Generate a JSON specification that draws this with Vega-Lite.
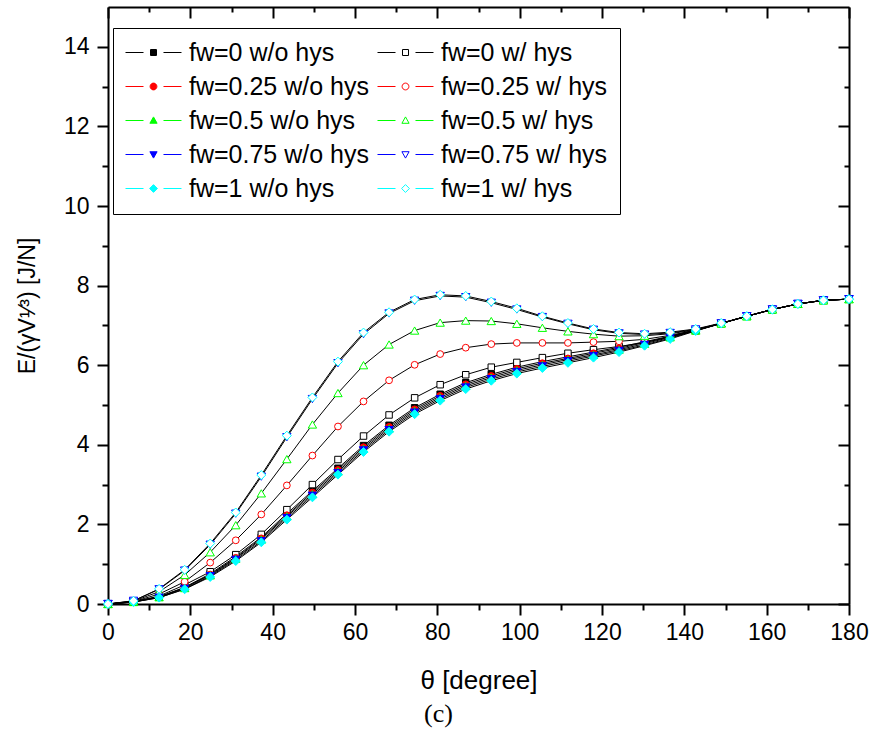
{
  "$schema": "https://vega.github.io/schema/vega-lite/v6.json",
  "width": 741,
  "height": 597,
  "autosize": "none",
  "padding": {"left": 108, "top": 7, "right": 24, "bottom": 132},
  "background": "white",
  "config": {"view": {"stroke": null}, "font": "Liberation Sans", "legend": {"gridAlign": "none"}},
  "title": {"text": "(c)", "orient": "bottom", "font": "Liberation Serif", "fontSize": 26, "fontWeight": "normal", "color": "black", "offset": 8, "dx": -40},
  "data": {"values": [
{"series":"fw=0 w/o hys","theta":0,"E":0},{"series":"fw=0 w/o hys","theta":6.207,"E":0.06},{"series":"fw=0 w/o hys","theta":12.414,"E":0.18},{"series":"fw=0 w/o hys","theta":18.621,"E":0.42},{"series":"fw=0 w/o hys","theta":24.828,"E":0.76},{"series":"fw=0 w/o hys","theta":31.034,"E":1.19},{"series":"fw=0 w/o hys","theta":37.241,"E":1.68},{"series":"fw=0 w/o hys","theta":43.448,"E":2.27},{"series":"fw=0 w/o hys","theta":49.655,"E":2.84},{"series":"fw=0 w/o hys","theta":55.862,"E":3.41},{"series":"fw=0 w/o hys","theta":62.069,"E":3.98},{"series":"fw=0 w/o hys","theta":68.276,"E":4.49},{"series":"fw=0 w/o hys","theta":74.483,"E":4.93},{"series":"fw=0 w/o hys","theta":80.69,"E":5.27},{"series":"fw=0 w/o hys","theta":86.897,"E":5.56},{"series":"fw=0 w/o hys","theta":93.103,"E":5.77},{"series":"fw=0 w/o hys","theta":99.31,"E":5.95},{"series":"fw=0 w/o hys","theta":105.517,"E":6.09},{"series":"fw=0 w/o hys","theta":111.724,"E":6.21},{"series":"fw=0 w/o hys","theta":117.931,"E":6.33},{"series":"fw=0 w/o hys","theta":124.138,"E":6.45},{"series":"fw=0 w/o hys","theta":130.345,"E":6.59},{"series":"fw=0 w/o hys","theta":136.552,"E":6.73},{"series":"fw=0 w/o hys","theta":142.759,"E":6.89},{"series":"fw=0 w/o hys","theta":148.966,"E":7.05},{"series":"fw=0 w/o hys","theta":155.172,"E":7.23},{"series":"fw=0 w/o hys","theta":161.379,"E":7.4},{"series":"fw=0 w/o hys","theta":167.586,"E":7.54},{"series":"fw=0 w/o hys","theta":173.793,"E":7.63},{"series":"fw=0 w/o hys","theta":180,"E":7.66},
{"series":"fw=0 w/ hys","theta":0,"E":0},{"series":"fw=0 w/ hys","theta":6.207,"E":0.05},{"series":"fw=0 w/ hys","theta":12.414,"E":0.2},{"series":"fw=0 w/ hys","theta":18.621,"E":0.48},{"series":"fw=0 w/ hys","theta":24.828,"E":0.81},{"series":"fw=0 w/ hys","theta":31.034,"E":1.24},{"series":"fw=0 w/ hys","theta":37.241,"E":1.75},{"series":"fw=0 w/ hys","theta":43.448,"E":2.37},{"series":"fw=0 w/ hys","theta":49.655,"E":3.0},{"series":"fw=0 w/ hys","theta":55.862,"E":3.63},{"series":"fw=0 w/ hys","theta":62.069,"E":4.22},{"series":"fw=0 w/ hys","theta":68.276,"E":4.75},{"series":"fw=0 w/ hys","theta":74.483,"E":5.18},{"series":"fw=0 w/ hys","theta":80.69,"E":5.51},{"series":"fw=0 w/ hys","theta":86.897,"E":5.76},{"series":"fw=0 w/ hys","theta":93.103,"E":5.95},{"series":"fw=0 w/ hys","theta":99.31,"E":6.07},{"series":"fw=0 w/ hys","theta":105.517,"E":6.19},{"series":"fw=0 w/ hys","theta":111.724,"E":6.3},{"series":"fw=0 w/ hys","theta":117.931,"E":6.39},{"series":"fw=0 w/ hys","theta":124.138,"E":6.47},{"series":"fw=0 w/ hys","theta":130.345,"E":6.57},{"series":"fw=0 w/ hys","theta":136.552,"E":6.72},{"series":"fw=0 w/ hys","theta":142.759,"E":6.87},{"series":"fw=0 w/ hys","theta":148.966,"E":7.05},{"series":"fw=0 w/ hys","theta":155.172,"E":7.23},{"series":"fw=0 w/ hys","theta":161.379,"E":7.4},{"series":"fw=0 w/ hys","theta":167.586,"E":7.54},{"series":"fw=0 w/ hys","theta":173.793,"E":7.63},{"series":"fw=0 w/ hys","theta":180,"E":7.66},
{"series":"fw=0.25 w/o hys","theta":0,"E":0},{"series":"fw=0.25 w/o hys","theta":6.207,"E":0.06},{"series":"fw=0.25 w/o hys","theta":12.414,"E":0.18},{"series":"fw=0.25 w/o hys","theta":18.621,"E":0.41},{"series":"fw=0.25 w/o hys","theta":24.828,"E":0.74},{"series":"fw=0.25 w/o hys","theta":31.034,"E":1.16},{"series":"fw=0.25 w/o hys","theta":37.241,"E":1.65},{"series":"fw=0.25 w/o hys","theta":43.448,"E":2.23},{"series":"fw=0.25 w/o hys","theta":49.655,"E":2.8},{"series":"fw=0.25 w/o hys","theta":55.862,"E":3.37},{"series":"fw=0.25 w/o hys","theta":62.069,"E":3.94},{"series":"fw=0.25 w/o hys","theta":68.276,"E":4.45},{"series":"fw=0.25 w/o hys","theta":74.483,"E":4.89},{"series":"fw=0.25 w/o hys","theta":80.69,"E":5.23},{"series":"fw=0.25 w/o hys","theta":86.897,"E":5.52},{"series":"fw=0.25 w/o hys","theta":93.103,"E":5.73},{"series":"fw=0.25 w/o hys","theta":99.31,"E":5.91},{"series":"fw=0.25 w/o hys","theta":105.517,"E":6.05},{"series":"fw=0.25 w/o hys","theta":111.724,"E":6.17},{"series":"fw=0.25 w/o hys","theta":117.931,"E":6.3},{"series":"fw=0.25 w/o hys","theta":124.138,"E":6.42},{"series":"fw=0.25 w/o hys","theta":130.345,"E":6.57},{"series":"fw=0.25 w/o hys","theta":136.552,"E":6.71},{"series":"fw=0.25 w/o hys","theta":142.759,"E":6.88},{"series":"fw=0.25 w/o hys","theta":148.966,"E":7.05},{"series":"fw=0.25 w/o hys","theta":155.172,"E":7.23},{"series":"fw=0.25 w/o hys","theta":161.379,"E":7.4},{"series":"fw=0.25 w/o hys","theta":167.586,"E":7.54},{"series":"fw=0.25 w/o hys","theta":173.793,"E":7.63},{"series":"fw=0.25 w/o hys","theta":180,"E":7.66},
{"series":"fw=0.25 w/ hys","theta":0,"E":0},{"series":"fw=0.25 w/ hys","theta":6.207,"E":0.06},{"series":"fw=0.25 w/ hys","theta":12.414,"E":0.25},{"series":"fw=0.25 w/ hys","theta":18.621,"E":0.56},{"series":"fw=0.25 w/ hys","theta":24.828,"E":1.04},{"series":"fw=0.25 w/ hys","theta":31.034,"E":1.6},{"series":"fw=0.25 w/ hys","theta":37.241,"E":2.25},{"series":"fw=0.25 w/ hys","theta":43.448,"E":2.98},{"series":"fw=0.25 w/ hys","theta":49.655,"E":3.73},{"series":"fw=0.25 w/ hys","theta":55.862,"E":4.46},{"series":"fw=0.25 w/ hys","theta":62.069,"E":5.09},{"series":"fw=0.25 w/ hys","theta":68.276,"E":5.62},{"series":"fw=0.25 w/ hys","theta":74.483,"E":6.01},{"series":"fw=0.25 w/ hys","theta":80.69,"E":6.28},{"series":"fw=0.25 w/ hys","theta":86.897,"E":6.44},{"series":"fw=0.25 w/ hys","theta":93.103,"E":6.53},{"series":"fw=0.25 w/ hys","theta":99.31,"E":6.56},{"series":"fw=0.25 w/ hys","theta":105.517,"E":6.56},{"series":"fw=0.25 w/ hys","theta":111.724,"E":6.56},{"series":"fw=0.25 w/ hys","theta":117.931,"E":6.58},{"series":"fw=0.25 w/ hys","theta":124.138,"E":6.6},{"series":"fw=0.25 w/ hys","theta":130.345,"E":6.65},{"series":"fw=0.25 w/ hys","theta":136.552,"E":6.75},{"series":"fw=0.25 w/ hys","theta":142.759,"E":6.88},{"series":"fw=0.25 w/ hys","theta":148.966,"E":7.05},{"series":"fw=0.25 w/ hys","theta":155.172,"E":7.23},{"series":"fw=0.25 w/ hys","theta":161.379,"E":7.4},{"series":"fw=0.25 w/ hys","theta":167.586,"E":7.54},{"series":"fw=0.25 w/ hys","theta":173.793,"E":7.63},{"series":"fw=0.25 w/ hys","theta":180,"E":7.66},
{"series":"fw=0.5 w/o hys","theta":0,"E":0},{"series":"fw=0.5 w/o hys","theta":6.207,"E":0.05},{"series":"fw=0.5 w/o hys","theta":12.414,"E":0.17},{"series":"fw=0.5 w/o hys","theta":18.621,"E":0.4},{"series":"fw=0.5 w/o hys","theta":24.828,"E":0.72},{"series":"fw=0.5 w/o hys","theta":31.034,"E":1.14},{"series":"fw=0.5 w/o hys","theta":37.241,"E":1.62},{"series":"fw=0.5 w/o hys","theta":43.448,"E":2.2},{"series":"fw=0.5 w/o hys","theta":49.655,"E":2.76},{"series":"fw=0.5 w/o hys","theta":55.862,"E":3.33},{"series":"fw=0.5 w/o hys","theta":62.069,"E":3.9},{"series":"fw=0.5 w/o hys","theta":68.276,"E":4.41},{"series":"fw=0.5 w/o hys","theta":74.483,"E":4.85},{"series":"fw=0.5 w/o hys","theta":80.69,"E":5.19},{"series":"fw=0.5 w/o hys","theta":86.897,"E":5.48},{"series":"fw=0.5 w/o hys","theta":93.103,"E":5.69},{"series":"fw=0.5 w/o hys","theta":99.31,"E":5.87},{"series":"fw=0.5 w/o hys","theta":105.517,"E":6.01},{"series":"fw=0.5 w/o hys","theta":111.724,"E":6.14},{"series":"fw=0.5 w/o hys","theta":117.931,"E":6.26},{"series":"fw=0.5 w/o hys","theta":124.138,"E":6.39},{"series":"fw=0.5 w/o hys","theta":130.345,"E":6.54},{"series":"fw=0.5 w/o hys","theta":136.552,"E":6.7},{"series":"fw=0.5 w/o hys","theta":142.759,"E":6.87},{"series":"fw=0.5 w/o hys","theta":148.966,"E":7.05},{"series":"fw=0.5 w/o hys","theta":155.172,"E":7.23},{"series":"fw=0.5 w/o hys","theta":161.379,"E":7.4},{"series":"fw=0.5 w/o hys","theta":167.586,"E":7.54},{"series":"fw=0.5 w/o hys","theta":173.793,"E":7.63},{"series":"fw=0.5 w/o hys","theta":180,"E":7.66},
{"series":"fw=0.5 w/ hys","theta":0,"E":0},{"series":"fw=0.5 w/ hys","theta":6.207,"E":0.07},{"series":"fw=0.5 w/ hys","theta":12.414,"E":0.31},{"series":"fw=0.5 w/ hys","theta":18.621,"E":0.73},{"series":"fw=0.5 w/ hys","theta":24.828,"E":1.3},{"series":"fw=0.5 w/ hys","theta":31.034,"E":1.98},{"series":"fw=0.5 w/ hys","theta":37.241,"E":2.78},{"series":"fw=0.5 w/ hys","theta":43.448,"E":3.64},{"series":"fw=0.5 w/ hys","theta":49.655,"E":4.51},{"series":"fw=0.5 w/ hys","theta":55.862,"E":5.3},{"series":"fw=0.5 w/ hys","theta":62.069,"E":6.0},{"series":"fw=0.5 w/ hys","theta":68.276,"E":6.52},{"series":"fw=0.5 w/ hys","theta":74.483,"E":6.87},{"series":"fw=0.5 w/ hys","theta":80.69,"E":7.07},{"series":"fw=0.5 w/ hys","theta":86.897,"E":7.12},{"series":"fw=0.5 w/ hys","theta":93.103,"E":7.11},{"series":"fw=0.5 w/ hys","theta":99.31,"E":7.04},{"series":"fw=0.5 w/ hys","theta":105.517,"E":6.94},{"series":"fw=0.5 w/ hys","theta":111.724,"E":6.85},{"series":"fw=0.5 w/ hys","theta":117.931,"E":6.78},{"series":"fw=0.5 w/ hys","theta":124.138,"E":6.73},{"series":"fw=0.5 w/ hys","theta":130.345,"E":6.74},{"series":"fw=0.5 w/ hys","theta":136.552,"E":6.79},{"series":"fw=0.5 w/ hys","theta":142.759,"E":6.89},{"series":"fw=0.5 w/ hys","theta":148.966,"E":7.05},{"series":"fw=0.5 w/ hys","theta":155.172,"E":7.23},{"series":"fw=0.5 w/ hys","theta":161.379,"E":7.4},{"series":"fw=0.5 w/ hys","theta":167.586,"E":7.54},{"series":"fw=0.5 w/ hys","theta":173.793,"E":7.63},{"series":"fw=0.5 w/ hys","theta":180,"E":7.66},
{"series":"fw=0.75 w/o hys","theta":0,"E":0},{"series":"fw=0.75 w/o hys","theta":6.207,"E":0.05},{"series":"fw=0.75 w/o hys","theta":12.414,"E":0.16},{"series":"fw=0.75 w/o hys","theta":18.621,"E":0.38},{"series":"fw=0.75 w/o hys","theta":24.828,"E":0.7},{"series":"fw=0.75 w/o hys","theta":31.034,"E":1.11},{"series":"fw=0.75 w/o hys","theta":37.241,"E":1.58},{"series":"fw=0.75 w/o hys","theta":43.448,"E":2.16},{"series":"fw=0.75 w/o hys","theta":49.655,"E":2.72},{"series":"fw=0.75 w/o hys","theta":55.862,"E":3.29},{"series":"fw=0.75 w/o hys","theta":62.069,"E":3.86},{"series":"fw=0.75 w/o hys","theta":68.276,"E":4.37},{"series":"fw=0.75 w/o hys","theta":74.483,"E":4.81},{"series":"fw=0.75 w/o hys","theta":80.69,"E":5.15},{"series":"fw=0.75 w/o hys","theta":86.897,"E":5.44},{"series":"fw=0.75 w/o hys","theta":93.103,"E":5.65},{"series":"fw=0.75 w/o hys","theta":99.31,"E":5.83},{"series":"fw=0.75 w/o hys","theta":105.517,"E":5.97},{"series":"fw=0.75 w/o hys","theta":111.724,"E":6.1},{"series":"fw=0.75 w/o hys","theta":117.931,"E":6.23},{"series":"fw=0.75 w/o hys","theta":124.138,"E":6.36},{"series":"fw=0.75 w/o hys","theta":130.345,"E":6.51},{"series":"fw=0.75 w/o hys","theta":136.552,"E":6.68},{"series":"fw=0.75 w/o hys","theta":142.759,"E":6.87},{"series":"fw=0.75 w/o hys","theta":148.966,"E":7.05},{"series":"fw=0.75 w/o hys","theta":155.172,"E":7.23},{"series":"fw=0.75 w/o hys","theta":161.379,"E":7.4},{"series":"fw=0.75 w/o hys","theta":167.586,"E":7.54},{"series":"fw=0.75 w/o hys","theta":173.793,"E":7.63},{"series":"fw=0.75 w/o hys","theta":180,"E":7.66},
{"series":"fw=0.75 w/ hys","theta":0,"E":0},{"series":"fw=0.75 w/ hys","theta":6.207,"E":0.08},{"series":"fw=0.75 w/ hys","theta":12.414,"E":0.37},{"series":"fw=0.75 w/ hys","theta":18.621,"E":0.84},{"series":"fw=0.75 w/ hys","theta":24.828,"E":1.49},{"series":"fw=0.75 w/ hys","theta":31.034,"E":2.27},{"series":"fw=0.75 w/ hys","theta":37.241,"E":3.2},{"series":"fw=0.75 w/ hys","theta":43.448,"E":4.19},{"series":"fw=0.75 w/ hys","theta":49.655,"E":5.15},{"series":"fw=0.75 w/ hys","theta":55.862,"E":6.05},{"series":"fw=0.75 w/ hys","theta":62.069,"E":6.78},{"series":"fw=0.75 w/ hys","theta":68.276,"E":7.3},{"series":"fw=0.75 w/ hys","theta":74.483,"E":7.62},{"series":"fw=0.75 w/ hys","theta":80.69,"E":7.74},{"series":"fw=0.75 w/ hys","theta":86.897,"E":7.71},{"series":"fw=0.75 w/ hys","theta":93.103,"E":7.57},{"series":"fw=0.75 w/ hys","theta":99.31,"E":7.4},{"series":"fw=0.75 w/ hys","theta":105.517,"E":7.21},{"series":"fw=0.75 w/ hys","theta":111.724,"E":7.04},{"series":"fw=0.75 w/ hys","theta":117.931,"E":6.89},{"series":"fw=0.75 w/ hys","theta":124.138,"E":6.8},{"series":"fw=0.75 w/ hys","theta":130.345,"E":6.77},{"series":"fw=0.75 w/ hys","theta":136.552,"E":6.81},{"series":"fw=0.75 w/ hys","theta":142.759,"E":6.9},{"series":"fw=0.75 w/ hys","theta":148.966,"E":7.05},{"series":"fw=0.75 w/ hys","theta":155.172,"E":7.23},{"series":"fw=0.75 w/ hys","theta":161.379,"E":7.4},{"series":"fw=0.75 w/ hys","theta":167.586,"E":7.54},{"series":"fw=0.75 w/ hys","theta":173.793,"E":7.63},{"series":"fw=0.75 w/ hys","theta":180,"E":7.66},
{"series":"fw=1 w/o hys","theta":0,"E":0},{"series":"fw=1 w/o hys","theta":6.207,"E":0.05},{"series":"fw=1 w/o hys","theta":12.414,"E":0.16},{"series":"fw=1 w/o hys","theta":18.621,"E":0.37},{"series":"fw=1 w/o hys","theta":24.828,"E":0.68},{"series":"fw=1 w/o hys","theta":31.034,"E":1.08},{"series":"fw=1 w/o hys","theta":37.241,"E":1.55},{"series":"fw=1 w/o hys","theta":43.448,"E":2.12},{"series":"fw=1 w/o hys","theta":49.655,"E":2.68},{"series":"fw=1 w/o hys","theta":55.862,"E":3.25},{"series":"fw=1 w/o hys","theta":62.069,"E":3.82},{"series":"fw=1 w/o hys","theta":68.276,"E":4.33},{"series":"fw=1 w/o hys","theta":74.483,"E":4.77},{"series":"fw=1 w/o hys","theta":80.69,"E":5.11},{"series":"fw=1 w/o hys","theta":86.897,"E":5.4},{"series":"fw=1 w/o hys","theta":93.103,"E":5.61},{"series":"fw=1 w/o hys","theta":99.31,"E":5.79},{"series":"fw=1 w/o hys","theta":105.517,"E":5.93},{"series":"fw=1 w/o hys","theta":111.724,"E":6.06},{"series":"fw=1 w/o hys","theta":117.931,"E":6.19},{"series":"fw=1 w/o hys","theta":124.138,"E":6.33},{"series":"fw=1 w/o hys","theta":130.345,"E":6.49},{"series":"fw=1 w/o hys","theta":136.552,"E":6.66},{"series":"fw=1 w/o hys","theta":142.759,"E":6.86},{"series":"fw=1 w/o hys","theta":148.966,"E":7.05},{"series":"fw=1 w/o hys","theta":155.172,"E":7.23},{"series":"fw=1 w/o hys","theta":161.379,"E":7.4},{"series":"fw=1 w/o hys","theta":167.586,"E":7.54},{"series":"fw=1 w/o hys","theta":173.793,"E":7.63},{"series":"fw=1 w/o hys","theta":180,"E":7.66},
{"series":"fw=1 w/ hys","theta":0,"E":0},{"series":"fw=1 w/ hys","theta":6.207,"E":0.08},{"series":"fw=1 w/ hys","theta":12.414,"E":0.38},{"series":"fw=1 w/ hys","theta":18.621,"E":0.86},{"series":"fw=1 w/ hys","theta":24.828,"E":1.52},{"series":"fw=1 w/ hys","theta":31.034,"E":2.3},{"series":"fw=1 w/ hys","theta":37.241,"E":3.24},{"series":"fw=1 w/ hys","theta":43.448,"E":4.23},{"series":"fw=1 w/ hys","theta":49.655,"E":5.19},{"series":"fw=1 w/ hys","theta":55.862,"E":6.09},{"series":"fw=1 w/ hys","theta":62.069,"E":6.82},{"series":"fw=1 w/ hys","theta":68.276,"E":7.33},{"series":"fw=1 w/ hys","theta":74.483,"E":7.65},{"series":"fw=1 w/ hys","theta":80.69,"E":7.77},{"series":"fw=1 w/ hys","theta":86.897,"E":7.74},{"series":"fw=1 w/ hys","theta":93.103,"E":7.6},{"series":"fw=1 w/ hys","theta":99.31,"E":7.43},{"series":"fw=1 w/ hys","theta":105.517,"E":7.23},{"series":"fw=1 w/ hys","theta":111.724,"E":7.06},{"series":"fw=1 w/ hys","theta":117.931,"E":6.91},{"series":"fw=1 w/ hys","theta":124.138,"E":6.82},{"series":"fw=1 w/ hys","theta":130.345,"E":6.79},{"series":"fw=1 w/ hys","theta":136.552,"E":6.83},{"series":"fw=1 w/ hys","theta":142.759,"E":6.91},{"series":"fw=1 w/ hys","theta":148.966,"E":7.06},{"series":"fw=1 w/ hys","theta":155.172,"E":7.23},{"series":"fw=1 w/ hys","theta":161.379,"E":7.4},{"series":"fw=1 w/ hys","theta":167.586,"E":7.54},{"series":"fw=1 w/ hys","theta":173.793,"E":7.63},{"series":"fw=1 w/ hys","theta":180,"E":7.66}
  ]},
  "layer": [
    {
      "mark": {"type": "line", "color": "black", "strokeWidth": 1},
      "encoding": {
        "x": {"field": "theta", "type": "quantitative", "scale": {"domain": [0, 180], "nice": false},
          "axis": {"orient": "bottom", "values": [0,10,20,30,40,50,60,70,80,90,100,110,120,130,140,150,160,170,180],
            "labelExpr": "datum.value % 20 == 0 ? datum.label : ''",
            "tickSize": {"condition": {"test": "datum.value % 20 == 0", "value": 11}, "value": 6},
            "tickWidth": 2, "tickColor": "black", "domainColor": "black", "domainWidth": 2, "grid": false,
            "labelFont": "Liberation Sans", "labelFontSize": 23, "labelColor": "black", "labelPadding": 6,
            "labelFlush": false, "labelOverlap": false,
            "title": "θ [degree]", "titleFont": "Liberation Sans", "titleFontSize": 26, "titleFontWeight": "normal", "titleColor": "black", "titlePadding": 23}},
        "y": {"field": "E", "type": "quantitative", "scale": {"domain": [0, 15], "nice": false},
          "axis": {"orient": "left", "values": [0,1,2,3,4,5,6,7,8,9,10,11,12,13,14],
            "labelExpr": "datum.value % 2 == 0 ? datum.label : ''",
            "tickSize": {"condition": {"test": "datum.value % 2 == 0", "value": 11}, "value": 6},
            "tickWidth": 2, "tickColor": "black", "domainColor": "black", "domainWidth": 2, "grid": false,
            "labelFont": "Liberation Sans", "labelFontSize": 23, "labelColor": "black", "labelPadding": 8,
            "labelFlush": false, "labelOverlap": false,
            "title": "E/(γV¹⁄³) [J/N]", "titleFont": "Liberation Sans", "titleFontSize": 23, "titleFontWeight": "normal", "titleColor": "black", "titlePadding": 24}},
        "detail": {"field": "series"}
      }
    },
    {
      "mark": {"type": "point", "strokeWidth": 1, "opacity": 1},
      "encoding": {
        "x": {"field": "theta", "type": "quantitative", "scale": {"domain": [0, 180], "nice": false},
          "axis": {"orient": "top", "values": [0,10,20,30,40,50,60,70,80,90,100,110,120,130,140,150,160,170,180],
            "labels": false, "title": null, "grid": false,
            "tickSize": {"condition": {"test": "datum.value % 20 == 0", "value": -11}, "value": -5},
            "tickWidth": 2, "tickColor": "black", "domainColor": "black", "domainWidth": 2}},
        "y": {"field": "E", "type": "quantitative", "scale": {"domain": [0, 15], "nice": false},
          "axis": {"orient": "right", "values": [0,1,2,3,4,5,6,7,8,9,10,11,12,13,14],
            "labels": false, "title": null, "grid": false,
            "tickSize": {"condition": {"test": "datum.value % 2 == 0", "value": -11}, "value": -5},
            "tickWidth": 2, "tickColor": "black", "domainColor": "black", "domainWidth": 2}},
        "size": {"field": "series", "type": "nominal", "legend": null,
          "scale": {"type": "ordinal", "domain": ["fw=0 w/o hys","fw=0 w/ hys","fw=0.25 w/o hys","fw=0.25 w/ hys","fw=0.5 w/o hys","fw=0.5 w/ hys","fw=0.75 w/o hys","fw=0.75 w/ hys","fw=1 w/o hys","fw=1 w/ hys"],
            "range": [42,42,46,46,70,70,70,70,80,80]}},
        "fill": {"field": "series", "type": "nominal", "legend": null,
          "scale": {"domain": ["fw=0 w/o hys","fw=0 w/ hys","fw=0.25 w/o hys","fw=0.25 w/ hys","fw=0.5 w/o hys","fw=0.5 w/ hys","fw=0.75 w/o hys","fw=0.75 w/ hys","fw=1 w/o hys","fw=1 w/ hys"],
            "range": ["#000000","#ffffff","#ff0000","#ffffff","#00ff00","#ffffff","#0000ff","#ffffff","#00ffff","#ffffff"]}},
        "stroke": {"field": "series", "type": "nominal", "legend": null,
          "scale": {"domain": ["fw=0 w/o hys","fw=0 w/ hys","fw=0.25 w/o hys","fw=0.25 w/ hys","fw=0.5 w/o hys","fw=0.5 w/ hys","fw=0.75 w/o hys","fw=0.75 w/ hys","fw=1 w/o hys","fw=1 w/ hys"],
            "range": ["#000000","#000000","#ff0000","#ff0000","#00ff00","#00ff00","#0000ff","#0000ff","#00ffff","#00ffff"]}},
        "shape": {"field": "series", "type": "nominal", "legend": null,
          "scale": {"domain": ["fw=0 w/o hys","fw=0 w/ hys","fw=0.25 w/o hys","fw=0.25 w/ hys","fw=0.5 w/o hys","fw=0.5 w/ hys","fw=0.75 w/o hys","fw=0.75 w/ hys","fw=1 w/o hys","fw=1 w/ hys"],
            "range": ["square","square","circle","circle","triangle-up","triangle-up","triangle-down","triangle-down","diamond","diamond"]}}
      }
    },
    {
      "mark": {"type": "point", "size": 576, "strokeWidth": 1, "opacity": 0},
      "encoding": {
        "x": {"field": "theta", "type": "quantitative", "axis": null},
        "y": {"field": "E", "type": "quantitative", "axis": null},
        "fill": {"field": "series", "type": "nominal",
          "scale": {"domain": ["fw=0 w/o hys","fw=0 w/ hys","fw=0.25 w/o hys","fw=0.25 w/ hys","fw=0.5 w/o hys","fw=0.5 w/ hys","fw=0.75 w/o hys","fw=0.75 w/ hys","fw=1 w/o hys","fw=1 w/ hys"],
            "range": ["#000000","#ffffff","#ff0000","#ffffff","#00ff00","#ffffff","#0000ff","#ffffff","#00ffff","#ffffff"]},
          "legend": {"orient": "none", "legendX": 5, "legendY": 21, "direction": "horizontal", "columns": 2, "gridAlign": "none",
            "columnPadding": 6, "rowPadding": 8, "title": null,
            "labelFont": "Liberation Sans", "labelFontSize": 25, "labelColor": "black", "labelLimit": 400, "labelOffset": 23,
            "symbolSize": 576, "symbolOffset": 16, "symbolStrokeWidth": 1, "symbolOpacity": 1,
            "strokeColor": "black", "fillColor": "white", "padding": 12}},
        "stroke": {"field": "series", "type": "nominal",
          "scale": {"domain": ["fw=0 w/o hys","fw=0 w/ hys","fw=0.25 w/o hys","fw=0.25 w/ hys","fw=0.5 w/o hys","fw=0.5 w/ hys","fw=0.75 w/o hys","fw=0.75 w/ hys","fw=1 w/o hys","fw=1 w/ hys"],
            "range": ["#000000","#000000","#ff0000","#ff0000","#00ff00","#00ff00","#0000ff","#0000ff","#00ffff","#00ffff"]}},
        "shape": {"field": "series", "type": "nominal",
          "scale": {"domain": ["fw=0 w/o hys","fw=0 w/ hys","fw=0.25 w/o hys","fw=0.25 w/ hys","fw=0.5 w/o hys","fw=0.5 w/ hys","fw=0.75 w/o hys","fw=0.75 w/ hys","fw=1 w/o hys","fw=1 w/ hys"],
            "range": [
              "M-2.333,0H-0.833M0.833,0H2.333M-0.25,-0.25H0.25V0.25H-0.25ZM-0.25,-0.167H0.25M-0.25,-0.083H0.25M-0.25,0H0.25M-0.25,0.083H0.25M-0.25,0.167H0.25",
              "M-2.333,0H-0.833M0.833,0H2.333M-0.25,-0.25H0.25V0.25H-0.25Z",
              "M-2.333,0H-0.833M0.833,0H2.333M0.283,0A0.283,0.283 0 1,1 -0.283,0A0.283,0.283 0 1,1 0.283,0ZM-0.27,0H0.27M-0.26,-0.083H0.26M-0.26,0.083H0.26M-0.22,-0.167H0.22M-0.22,0.167H0.22M-0.12,-0.25H0.12M-0.12,0.25H0.12",
              "M-2.333,0H-0.833M0.833,0H2.333M0.283,0A0.283,0.283 0 1,1 -0.283,0A0.283,0.283 0 1,1 0.283,0Z",
              "M-2.333,0H-0.833M0.833,0H2.333M0,-0.3L0.3,0.233L-0.3,0.233ZM-0.075,-0.167H0.075M-0.122,-0.083H0.122M-0.169,0H0.169M-0.216,0.083H0.216M-0.263,0.167H0.263",
              "M-2.333,0H-0.833M0.833,0H2.333M0,-0.3L0.3,0.233L-0.3,0.233Z",
              "M-2.333,0H-0.833M0.833,0H2.333M0,0.3L0.3,-0.233L-0.3,-0.233ZM-0.075,0.167H0.075M-0.122,0.083H0.122M-0.169,0H0.169M-0.216,-0.083H0.216M-0.263,-0.167H0.263",
              "M-2.333,0H-0.833M0.833,0H2.333M0,0.3L0.3,-0.233L-0.3,-0.233Z",
              "M-2.333,0H-0.833M0.833,0H2.333M0,-0.325L0.325,0L0,0.325L-0.325,0ZM-0.31,0H0.31M-0.235,-0.083H0.235M-0.235,0.083H0.235M-0.15,-0.167H0.15M-0.15,0.167H0.15M-0.07,-0.25H0.07M-0.07,0.25H0.07",
              "M-2.333,0H-0.833M0.833,0H2.333M0,-0.325L0.325,0L0,0.325L-0.325,0Z"
            ]}}
      }
    }
  ],
  "resolve": {"axis": {"x": "independent", "y": "independent"}, "scale": {"fill": "independent", "stroke": "independent", "shape": "independent"}}
}
